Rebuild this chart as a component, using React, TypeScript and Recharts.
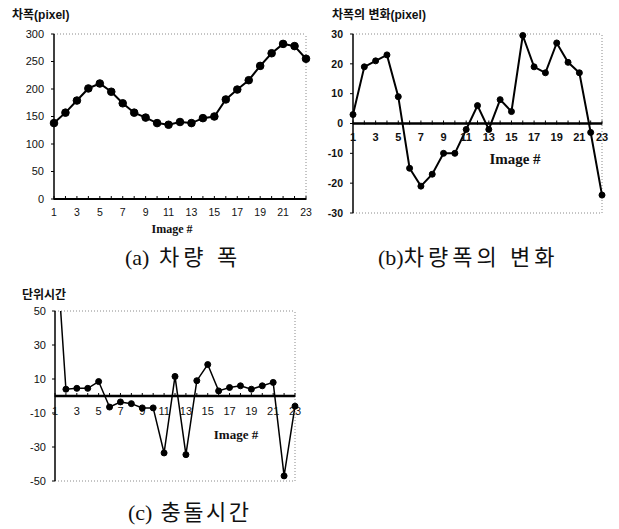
import React from 'react';
import { LineChart, Line, XAxis, YAxis, ReferenceLine, ReferenceDot } from 'recharts';

// image index shared by the three plots
const imageNo = [1, 2, 3, 4, 5, 6, 7, 8, 9, 10, 11, 12, 13, 14, 15, 16, 17, 18, 19, 20, 21, 22, 23];

// (a) vehicle width in pixels
const vehicleWidth = [138, 157, 179, 201, 210, 195, 174, 157, 148, 138, 135, 140, 138, 147, 150, 181, 199, 216, 242, 265, 282, 278, 255];
// (b) change of vehicle width
const widthChange = [3, 19, 21, 23, 9, -15, -21, -17, -10, -10, -2, 6, -2, 8, 4, 29.5, 19, 17, 27, 20.5, 17, -3, -24];
// (c) time to collision, first value runs off the top of the plot
const collisionTime = [100, 4, 4.5, 4.5, 8.5, -6.5, -3.5, -4.5, -7, -7, -33.5, 11.5, -34.5, 9, 18.5, 3, 5, 6, 4, 6, 8, -47, -6];

const ticksA = [0, 50, 100, 150, 200, 250, 300];
const ticksB = [-30, -20, -10, 0, 10, 20, 30];
const ticksC = [-50, -30, -10, 10, 30, 50];

const titleA = '차폭(pixel)';
const titleB = '차폭의 변화(pixel)';
const titleC = '단위시간';
const captionA = '(a) 차량 폭';
const captionB = '(b)차량폭의 변화';
const captionC = '(c) 충돌시간';
const xTitle = 'Image #';

const sans = "'Liberation Sans', Arial, 'Noto Sans CJK KR', sans-serif";
const serif = "'Liberation Serif', 'Noto Sans CJK KR', serif";

const toRows = (values: number[]) => imageNo.map((n, i) => ({ n, v: values[i] }));

const BottomTick = (props: any) => {
  const { x, y, payload } = props;
  const n = payload.value as number;
  return (
    <g>
      <line x1={x} y1={y - 3} x2={x} y2={y + 1} stroke="#000" strokeWidth={1} />
      {n % 2 === 1 && (
        <text x={x} y={y + 17} textAnchor="middle" fontSize={10.5} fontFamily={sans} fill="#111">
          {n}
        </text>
      )}
    </g>
  );
};

// tick mark + label sitting on the zero line
const ZeroTick = (props: any) => {
  const { cx, cy, n, bold, size, dy } = props;
  return (
    <g>
      <line x1={cx} y1={cy - 3} x2={cx} y2={cy + 1} stroke="#000" strokeWidth={1} />
      {n % 2 === 1 && (
        <text
          x={cx}
          y={cy + dy}
          textAnchor="middle"
          fontSize={size}
          fontWeight={bold ? 700 : 400}
          fontFamily={sans}
          fill="#111"
        >
          {n}
        </text>
      )}
    </g>
  );
};

const dotted = { stroke: '#8a8a8a', strokeDasharray: '1 2', strokeWidth: 1 };

function Label({ x, y, size, text, bold, family, center }: any) {
  return (
    <div
      style={{
        position: 'absolute',
        left: x,
        top: y - size / 2,
        fontSize: size,
        lineHeight: 1,
        fontWeight: bold ? 700 : 400,
        fontFamily: family,
        color: '#111',
        whiteSpace: 'nowrap',
        transform: center ? 'translateX(-50%)' : undefined,
      }}
    >
      {text}
    </div>
  );
}

// caption: tight "(x)" prefix, wider spaced Korean part
function Caption({ x, y, text, spacing }: any) {
  const cut = text.indexOf(')') + 1;
  return (
    <div
      style={{
        position: 'absolute',
        left: x,
        top: y - 11,
        fontSize: 22,
        lineHeight: 1,
        fontFamily: serif,
        color: '#111',
        whiteSpace: 'pre',
      }}
    >
      <span>{text.slice(0, cut)}</span>
      <span style={{ letterSpacing: spacing }}>{text.slice(cut)}</span>
    </div>
  );
}

export default function App() {
  return (
    <div style={{ position: 'absolute', left: 0, top: 0, width: 619, height: 529, background: '#fff', overflow: 'hidden' }}>
      {/* (a) */}
      <div style={{ position: 'absolute', left: 0, top: 0 }}>
        <LineChart width={320} height={240} data={toRows(vehicleWidth)} margin={{ top: 34, right: 14, bottom: 11, left: 0 }}>
          <XAxis
            dataKey="n"
            type="number"
            domain={[1, 23]}
            ticks={imageNo}
            interval={0}
            height={30}
            tickLine={false}
            tickSize={0}
            tickMargin={0}
            tick={<BottomTick />}
            axisLine={{ stroke: '#000', strokeWidth: 2 }}
          />
          <YAxis
            width={54}
            domain={[0, 300]}
            ticks={ticksA}
            interval={0}
            tickSize={3}
            tickMargin={7}
            axisLine={{ stroke: '#000', strokeWidth: 1.5 }}
            tickLine={{ stroke: '#000' }}
            tick={{ fontSize: 11, fill: '#111', fontFamily: sans }}
          />
          <ReferenceLine y={300} {...dotted} />
          <ReferenceLine x={23} {...dotted} />
          <Line
            dataKey="v"
            stroke="#000"
            strokeWidth={2}
            dot={{ r: 3.8, fill: '#000', stroke: '#000', strokeWidth: 1 }}
            isAnimationActive={false}
          />
        </LineChart>
      </div>

      {/* (b) */}
      <div style={{ position: 'absolute', left: 300, top: 0 }}>
        <LineChart width={319} height={240} data={toRows(widthChange)} margin={{ top: 34, right: 17, bottom: 27, left: 0 }}>
          <XAxis dataKey="n" type="number" domain={[1, 23]} hide />
          <YAxis
            width={53}
            domain={[-30, 30]}
            ticks={ticksB}
            interval={0}
            tickSize={3}
            tickMargin={7}
            axisLine={{ stroke: '#000', strokeWidth: 1.5 }}
            tickLine={{ stroke: '#000' }}
            tick={{ fontSize: 10.5, fill: '#111', fontFamily: sans, fontWeight: 700 }}
          />
          <ReferenceLine y={30} {...dotted} />
          <ReferenceLine y={-30} {...dotted} />
          <ReferenceLine x={23} {...dotted} />
          <ReferenceLine y={0} stroke="#000" strokeWidth={2.5} />
          {imageNo.map((n) => (
            <ReferenceDot
              key={n}
              x={n}
              y={0}
              r={0}
              shape={(p: any) => <ZeroTick {...p} n={n} bold size={11} dy={17} />}
            />
          ))}
          <Line
            dataKey="v"
            stroke="#000"
            strokeWidth={2}
            dot={{ r: 3, fill: '#000', stroke: '#000', strokeWidth: 1 }}
            isAnimationActive={false}
          />
        </LineChart>
      </div>

      {/* (c) */}
      <div style={{ position: 'absolute', left: 0, top: 280 }}>
        <LineChart width={320} height={220} data={toRows(collisionTime)} margin={{ top: 31, right: 25, bottom: 19, left: 0 }}>
          <XAxis dataKey="n" type="number" domain={[1, 23]} hide />
          <YAxis
            width={55}
            domain={[-50, 50]}
            ticks={ticksC}
            interval={0}
            allowDataOverflow
            tickSize={3}
            tickMargin={6}
            axisLine={{ stroke: '#000', strokeWidth: 1.5 }}
            tickLine={{ stroke: '#000' }}
            tick={{ fontSize: 11, fill: '#111', fontFamily: sans }}
          />
          <ReferenceLine y={50} {...dotted} />
          <ReferenceLine y={-50} {...dotted} />
          <ReferenceLine x={23} {...dotted} />
          <ReferenceLine y={0} stroke="#000" strokeWidth={2.5} />
          {imageNo.map((n) => (
            <ReferenceDot
              key={n}
              x={n}
              y={0}
              r={0}
              shape={(p: any) => <ZeroTick {...p} n={n} size={11} dy={19} />}
            />
          ))}
          <Line
            dataKey="v"
            stroke="#000"
            strokeWidth={1.5}
            dot={{ r: 3, fill: '#000', stroke: '#000', strokeWidth: 1 }}
            isAnimationActive={false}
          />
        </LineChart>
      </div>

      <Label x={12} y={15} size={12} text={titleA} bold family={sans} />
      <Label x={332} y={15} size={12} text={titleB} bold family={sans} />
      <Label x={22} y={295} size={12} text={titleC} bold family={sans} />

      <Label x={172} y={229} size={12} text={xTitle} bold family={serif} center />
      <Label x={515} y={159} size={15} text={xTitle} bold family={serif} center />
      <Label x={236} y={434} size={13} text={xTitle} bold family={serif} center />

      <Caption x={125} y={258} text={captionA} spacing={4} />
      <Caption x={378} y={258} text={captionB} spacing={4} />
      <Caption x={128} y={513} text={captionC} spacing={2.5} />
    </div>
  );
}
